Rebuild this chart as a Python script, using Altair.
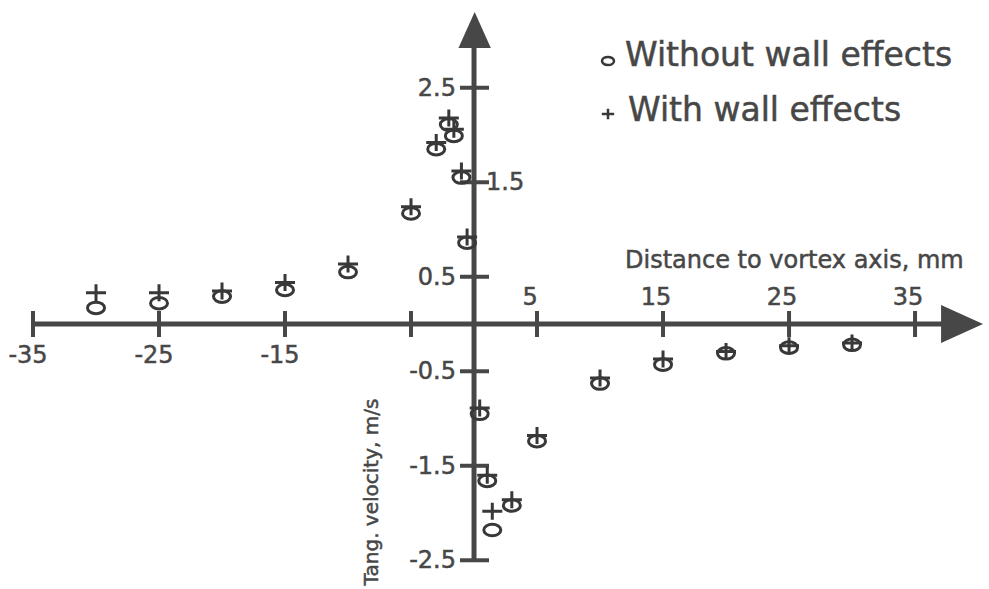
import altair as alt
import pandas as pd

# ---------------- data ----------------
dist = [-30, -25, -20, -15, -10, -5, -3, -2, -1.6, -1, -0.55,
        0.45, 1.05, 1.45, 3, 5, 10, 15, 20, 25, 30]
v_without = [0.17, 0.22, 0.29, 0.36, 0.55, 1.17, 1.85, 2.11, 1.99, 1.55, 0.86,
             -0.95, -1.66, -2.18, -1.92, -1.24, -0.63, -0.43, -0.31, -0.25, -0.22]
v_with = [0.33, 0.33, 0.35, 0.44, 0.635, 1.24, 1.92, 2.18, 2.06, 1.62, 0.92,
          -0.89, -1.60, -1.98, -1.86, -1.18, -0.57, -0.37, -0.29, -0.23, -0.20]

x_ticks = [-35, -25, -15, -5, 5, 15, 25, 35]
x_labels_below = ["-35", "-25", "-15"]
x_labels_above = ["5", "15", "25", "35"]
y_ticks = [2.5, 1.5, 0.5, -0.5, -1.5, -2.5]
y_labels_left = ["2.5", "0.5", "-0.5", "-1.5", "-2.5"]
y_labels_right = ["1.5"]

legend_labels = ["Without wall effects", "With wall effects"]
x_title = "Distance to vortex axis, mm"
y_title = "Tang. velocity, m/s"

# axis extents (data units)
x_axis = {"x": -35, "x2": 37.4, "y": 0, "y2": 0}
y_axis = {"x": 0, "x2": 0, "y": -2.5, "y2": 2.95}
arrow_right = {"x": 38.73, "y": 0}
arrow_up = {"x": 0.05, "y": 3.11}

# ---------------- styling ----------------
FONT = "DejaVu Sans"
INK = "#474747"
MARK_INK = "#383838"

xs = alt.Scale(domain=[-37.62, 40.87], nice=False, zero=False)
ys = alt.Scale(domain=[-2.804, 3.4286], nice=False, zero=False)


def X(f="x"):
    return alt.X(f"{f}:Q", scale=xs, axis=None)


def Y(f="y"):
    return alt.Y(f"{f}:Q", scale=ys, axis=None)


ELLIPSE = ("M-1,0C-1,-0.38,-0.55,-0.68,0,-0.68C0.55,-0.68,1,-0.38,1,0"
           "C1,0.38,0.55,0.68,0,0.68C-0.55,0.68,-1,0.38,-1,0Z")
PLUS = "M-1,0L1,0M0,-0.85L0,0.85"

TXT = dict(font=FONT, color=INK, stroke=INK, strokeWidth=0.5)

axes_df = pd.DataFrame([x_axis, y_axis])
axes = alt.Chart(axes_df).mark_rule(color=INK, strokeWidth=5).encode(
    x=X(), x2="x2:Q", y=Y(), y2="y2:Q"
)

arr_r = alt.Chart(pd.DataFrame([arrow_right])).mark_point(
    shape="M-1,-0.9L1,0L-1,0.9Z", size=1764, filled=True, color=INK, opacity=1
).encode(x=X(), y=Y())
arr_u = alt.Chart(pd.DataFrame([arrow_up])).mark_point(
    shape="M-0.9,1L0,-1L0.9,1Z", size=1296, filled=True, color=INK, opacity=1
).encode(x=X(), y=Y())

xt = alt.Chart(pd.DataFrame({"x": x_ticks})).mark_rule(color=INK, strokeWidth=4).encode(
    x=X(), y=alt.value(311), y2=alt.value(337)
)
yt = alt.Chart(pd.DataFrame({"y": y_ticks})).mark_rule(color=INK, strokeWidth=4).encode(
    y=Y(), x=alt.value(460), x2=alt.value(489)
)

below_df = pd.DataFrame({"x": [float(s) for s in x_labels_below], "t": x_labels_below})
above_df = pd.DataFrame({"x": [float(s) for s in x_labels_above], "t": x_labels_above})
xl_below = alt.Chart(below_df).mark_text(
    fontSize=24, align="center", baseline="alphabetic", dx=-5, **TXT
).encode(x=X(), y=alt.value(363), text="t:N")
xl_above = alt.Chart(above_df).mark_text(
    fontSize=24, align="center", baseline="alphabetic", dx=-7, **TXT
).encode(x=X(), y=alt.value(305), text="t:N")

left_df = pd.DataFrame({"y": [float(s) for s in y_labels_left], "t": y_labels_left})
right_df = pd.DataFrame({"y": [float(s) for s in y_labels_right], "t": y_labels_right})
yl_left = alt.Chart(left_df).mark_text(
    fontSize=24, align="right", baseline="middle", dy=1, **TXT
).encode(y=Y(), x=alt.value(456), text="t:N")
yl_right = alt.Chart(right_df).mark_text(
    fontSize=24, align="left", baseline="middle", dy=1, **TXT
).encode(y=Y(), x=alt.value(486), text="t:N")

pts_df = pd.DataFrame({"x": dist, "without": v_without, "with": v_with})
p_without = alt.Chart(pts_df).mark_point(
    shape=ELLIPSE, size=289, filled=False, color=MARK_INK, strokeWidth=3, opacity=1
).encode(x=X(), y=Y("without"))
p_with = alt.Chart(pts_df).mark_point(
    shape=PLUS, size=400, filled=False, color=MARK_INK, strokeWidth=3, opacity=1
).encode(x=X(), y=Y("with"))

xtitle = alt.Chart(pd.DataFrame({"t": [x_title]})).mark_text(
    fontSize=24, align="left", baseline="alphabetic", **TXT
).encode(x=alt.value(625), y=alt.value(268), text="t:N")
ytitle = alt.Chart(pd.DataFrame({"t": [y_title]})).mark_text(
    fontSize=20, align="center", baseline="middle", angle=270, **TXT
).encode(x=alt.value(372), y=alt.value(492), text="t:N")

leg1 = alt.Chart(pd.DataFrame({"t": [legend_labels[0]]})).mark_text(
    fontSize=33, align="left", baseline="alphabetic", **TXT
).encode(x=alt.value(625), y=alt.value(66), text="t:N")
leg2 = alt.Chart(pd.DataFrame({"t": [legend_labels[1]]})).mark_text(
    fontSize=33, align="left", baseline="alphabetic", **TXT
).encode(x=alt.value(628), y=alt.value(121), text="t:N")
leg_m1 = alt.Chart(pd.DataFrame({"t": [legend_labels[0]]})).mark_point(
    shape=ELLIPSE, size=144, filled=False, color=MARK_INK, strokeWidth=2.5, opacity=1
).encode(x=alt.value(608), y=alt.value(61))
leg_m2 = alt.Chart(pd.DataFrame({"t": [legend_labels[1]]})).mark_point(
    shape=PLUS, size=150, filled=False, color=MARK_INK, strokeWidth=2.5, opacity=1
).encode(x=alt.value(608), y=alt.value(114))

chart = alt.layer(
    axes, arr_r, arr_u, xt, yt, xl_below, xl_above, yl_left, yl_right,
    p_without, p_with, xtitle, ytitle, leg1, leg2, leg_m1, leg_m2
).properties(
    width=989, height=589, padding=0,
    autosize=alt.AutoSizeParams(type="none"),
    background="white",
).configure_view(stroke=None)

chart.save("out.html", embed_options={"renderer": "svg", "actions": False})
